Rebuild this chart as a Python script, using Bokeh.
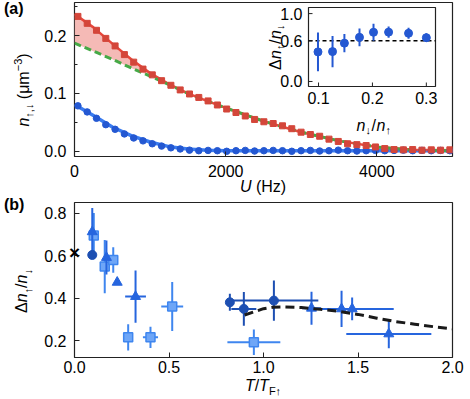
import math
from bokeh.plotting import figure
from bokeh.models import Range1d, FixedTicker, PrintfTickFormatter, Label, Div
from bokeh.layouts import column, row
from bokeh.embed import file_html
from bokeh.resources import INLINE
from bokeh.core.properties import value

FONT = "Liberation Sans"

# ---------------- data: panel (a) ----------------
U_hz = [45, 168, 291, 414, 537, 660, 783, 906, 1029, 1152, 1275, 1398, 1521, 1644, 1767,
        1890, 2013, 2136, 2259, 2382, 2505, 2628, 2751, 2874, 2997, 3120, 3243, 3366, 3489,
        3612, 3735, 3858, 3981, 4104, 4227, 4350, 4473, 4596, 4719, 4842, 4965]
n_up = [0.233, 0.221, 0.209, 0.195, 0.182, 0.167, 0.154, 0.142, 0.132, 0.122, 0.114, 0.106,
        0.099, 0.093, 0.087, 0.080, 0.073, 0.067, 0.061, 0.055, 0.051, 0.048, 0.044, 0.039,
        0.033, 0.029, 0.026, 0.021, 0.017, 0.013, 0.0115, 0.010, 0.0075, 0.0047, 0.003,
        0.0025, 0.003, 0.002, 0.0025, 0.002, 0.0025]
n_dn = [0.0785, 0.068, 0.057, 0.046, 0.038, 0.030, 0.023, 0.018, 0.013, 0.009, 0.006, 0.004,
        0.002, 0.001, 0.0015, 0.001, 0.0, 0.001, 0.0015, 0.0005, 0.001, 0.0015, 0.001, 0.0,
        0.001, 0.0015, 0.0005, 0.001, 0.002, 0.001, 0.0005, 0.001, 0.0015, 0.001, 0.0015,
        0.002, 0.001, 0.0015, 0.001, 0.0015, 0.001]
fit_U = [0, 250, 500, 750, 1000, 1250, 1500, 1750, 2000, 2500, 3000, 3500, 4000, 4500, 5000]
fit_up = [0.237, 0.214, 0.186, 0.159, 0.135, 0.116, 0.100, 0.087, 0.075, 0.052, 0.033, 0.018,
          0.0075, 0.0025, 0.002]
theory_up = [0.187, 0.173, 0.159, 0.144, 0.130, 0.115, 0.100, 0.087, 0.075, 0.052, 0.033,
             0.018, 0.0075, 0.0015, 0.001]
fit_dn = [0.081, 0.062, 0.042, 0.027, 0.016, 0.008, 0.004, 0.002, 0.001, 0.001, 0.001, 0.001,
          0.001, 0.001, 0.001]

# inset
inset_ratio = [0.099, 0.126, 0.148, 0.176, 0.202, 0.230, 0.267, 0.300]
inset_dn = [0.436, 0.440, 0.565, 0.650, 0.725, 0.727, 0.710, 0.645]
inset_err = [0.284, 0.230, 0.135, 0.130, 0.125, 0.083, 0.080, 0.065]
inset_ref = 0.6

# ---------------- data: panel (b) ----------------
circ_T = [0.094, 0.822, 0.896, 1.055]
circ_v = [0.603, 0.380, 0.349, 0.388]
circ_xe = [0.0, 0.02, 0.066, 0.235]
circ_ye = [0.0, 0.04, 0.08, 0.095]

tri_T = [0.094, 0.169, 0.226, 0.323, 1.254, 1.413, 1.469, 1.663]
tri_v = [0.712, 0.591, 0.474, 0.407, 0.352, 0.349, 0.349, 0.231]
tri_xe = [0.0, 0.0, 0.0, 0.055, 0.05, 0.0, 0.22, 0.225]
tri_ye = [0.112, 0.08, 0.0, 0.123, 0.078, 0.085, 0.053, 0.067]

sq_T = [0.102, 0.160, 0.205, 0.284, 0.402, 0.517, 0.949]
sq_v = [0.695, 0.548, 0.579, 0.215, 0.215, 0.360, 0.192]
sq_xe = [0.0, 0.0, 0.0, 0.0, 0.04, 0.058, 0.14]
sq_ye = [0.105, 0.125, 0.06, 0.062, 0.05, 0.115, 0.06]

cross_T = 0.0
cross_v = 0.615

theory_T = [0.9, 1.0, 1.05, 1.1, 1.2, 1.3, 1.4, 1.5, 1.6, 1.7, 1.8, 1.9, 2.0]
theory_v = [0.32, 0.35, 0.357, 0.358, 0.355, 0.347, 0.337, 0.323, 0.305, 0.289, 0.277, 0.265, 0.255]

# ---------------- styles / layout ----------------
RED_PT = "#d4463a"
RED_LINE = "#e8473b"
SHADE = "#f2a9a4"
GREEN = "#46a946"
BLUE_LINE = "#3a7cf0"
BLUE_PT = "#2458d2"
C_DARK = "#1d4fb2"
C_MID = "#2665de"
C_LIGHT = "#3f86ef"
C_LIGHT_FILL = "#6ea6f7"
FRAME = "#222222"

TOTAL_W = 466
SIDE_W = 30           # html column holding panel letter + y label
LEFT, RIGHT = 44, 14  # figure borders
FW = TOTAL_W - SIDE_W - LEFT - RIGHT   # 378
FH_A, FH_B = 154, 155
TOP_A, BOT_A = 2, 27
TOP_B, BOT_B = 6, 22
XLAB_A_H, XLAB_B_H = 13, 18
TICK_FS = "16px"
LAB_FS = "16px"
SUB_FS = "11px"


def style(p, xticks, yticks, xfmt, yfmt, xstand, yminor=None):
    p.outline_line_color = FRAME
    p.outline_line_width = 1.2
    p.xgrid.visible = False
    p.ygrid.visible = False
    for ax in (p.xaxis[0], p.yaxis[0]):
        ax.axis_line_color = None
        ax.major_tick_in = 5
        ax.major_tick_out = 0
        ax.minor_tick_in = 3
        ax.minor_tick_out = 0
        ax.major_tick_line_color = FRAME
        ax.minor_tick_line_color = FRAME
        ax.major_label_text_font = FONT
        ax.major_label_text_font_size = TICK_FS
        ax.major_label_text_color = "black"
    p.xaxis[0].major_label_standoff = xstand
    p.yaxis[0].major_label_standoff = 8
    p.xaxis[0].ticker = FixedTicker(ticks=xticks, minor_ticks=[])
    p.yaxis[0].ticker = FixedTicker(ticks=yticks, minor_ticks=yminor or [])
    p.xaxis[0].formatter = PrintfTickFormatter(format=xfmt)
    p.yaxis[0].formatter = PrintfTickFormatter(format=yfmt)


class Mapper:
    """pixel offsets (from frame left / frame top) -> data coordinates"""
    def __init__(self, x0, x1, y0, y1, fw, fh):
        self.x0, self.x1, self.y0, self.y1, self.fw, self.fh = x0, x1, y0, y1, fw, fh

    def x(self, px):
        return self.x0 + px / self.fw * (self.x1 - self.x0)

    def y(self, py):
        return self.y1 - py / self.fh * (self.y1 - self.y0)


def lab(p, m, px, py, text, size=LAB_FS, fstyle="normal", align="left",
        baseline="alphabetic", angle=0.0, **kw):
    p.add_layout(Label(x=m.x(px), y=m.y(py), text=text, text_font=FONT, text_font_size=size,
                       text_font_style=fstyle, text_align=align, text_baseline=baseline,
                       angle=angle, text_color="black", **kw))


def hlabel(p, m, cx, base, pieces, **kw):
    total = sum(pc[1] for pc in pieces)
    x = cx - total / 2
    for text, w, size, fst, shift in pieces:
        lab(p, m, x, base + shift, text, size=size, fstyle=fst, **kw)
        x += w


def vlabel(p, m, base, cy, pieces, **kw):
    total = sum(pc[1] for pc in pieces)
    y = cy + total / 2
    for text, w, size, fst, shift in pieces:
        lab(p, m, base + shift, y, text, size=size, fstyle=fst, angle=math.pi / 2, **kw)
        y -= w


def side_div(height, letter, letter_top, ylabel_html, cy):
    html = (
        f'<div style="position:relative;width:{SIDE_W}px;height:{height}px;margin:0;padding:0;'
        f'font-family:\'{FONT}\';color:black;">'
        f'<div style="position:absolute;left:4px;top:{letter_top}px;font-size:16px;'
        f'font-weight:bold;line-height:1;white-space:nowrap;">{letter}</div>'
        f'<div style="position:absolute;left:24px;top:{cy}px;font-size:{LAB_FS};line-height:1;'
        f'white-space:nowrap;transform:translate(-50%,-50%) rotate(-90deg);">{ylabel_html}</div>'
        f'</div>')
    return Div(text=html, width=SIDE_W, height=height, margin=0,
               styles={"overflow": "visible", "padding": "0", "margin": "0"})


def xlabel_div(label_html, height, top):
    cx = SIDE_W + LEFT + FW / 2
    html = (
        f'<div style="position:relative;width:{TOTAL_W}px;height:{height}px;margin:0;padding:0;'
        f'font-family:\'{FONT}\';color:black;">'
        f'<div style="position:absolute;left:{cx}px;top:{top}px;font-size:{LAB_FS};line-height:1;'
        f'white-space:nowrap;transform:translateX(-50%);">{label_html}</div></div>')
    return Div(text=html, width=TOTAL_W, height=height, margin=0,
               styles={"overflow": "visible", "padding": "0", "margin": "0"})


def make_fig(xr, yr, fh, top, bot):
    return figure(frame_width=FW, frame_height=fh, min_border_left=LEFT,
                  min_border_right=RIGHT, min_border_top=top, min_border_bottom=bot,
                  x_range=Range1d(*xr), y_range=Range1d(*yr), output_backend="svg",
                  toolbar_location=None, background_fill_color="white",
                  border_fill_color=None, margin=0)


# ---------------- panel (a) ----------------
xa0, xa1 = 0, 5000
ya0, ya1 = -0.009, 0.257
pa = make_fig((xa0, xa1), (ya0, ya1), FH_A, TOP_A, BOT_A)
style(pa, [0, 2000, 4000], [0.0, 0.1, 0.2], "%d", "%.1f", 8, yminor=[0.05, 0.15, 0.25])
ma = Mapper(xa0, xa1, ya0, ya1, FW, FH_A)

pa.varea(x=fit_U, y1=theory_up, y2=fit_up, fill_color=SHADE, fill_alpha=0.8)
pa.line(fit_U, fit_dn, line_color=BLUE_LINE, line_width=3.5)
pa.line(fit_U, fit_up, line_color=RED_LINE, line_width=2.5)
pa.line(fit_U, theory_up, line_color=GREEN, line_width=3, line_dash="7 4")
pa.scatter(U_hz, n_dn, marker="circle", size=6.5, fill_color=BLUE_PT, line_color=BLUE_PT)
pa.scatter(U_hz, n_up, marker="square", size=6, fill_color=RED_PT, line_color=RED_PT)

# inset drawn on extra ranges
IL, IR, IT, IB = 234, 361, 5, 84  # px inside frame
xi0, xi1 = 0.0814, 0.317
yi0, yi1 = -0.074, 1.09
sxi = (IR - IL) / (xi1 - xi0)
syi = (IB - IT) / (yi1 - yi0)
pa.extra_x_ranges = {"ix": Range1d(xi0 - IL / sxi, xi1 + (FW - IR) / sxi)}
pa.extra_y_ranges = {"iy": Range1d(yi0 - (FH_A - IB) / syi, yi1 + IT / syi)}
ik = dict(x_range_name="ix", y_range_name="iy")

pa.quad(left=[xi0], right=[xi1], bottom=[yi0], top=[yi1], fill_color="white",
        line_color=FRAME, line_width=1.2, **ik)
pa.line([xi0, xi1], [inset_ref, inset_ref], line_color="black", line_width=1.5,
        line_dash="4 3", **ik)
pa.segment(x0=inset_ratio, x1=inset_ratio,
           y0=[v - e for v, e in zip(inset_dn, inset_err)],
           y1=[v + e for v, e in zip(inset_dn, inset_err)],
           line_color=BLUE_PT, line_width=2, **ik)
pa.scatter(inset_ratio, inset_dn, marker="circle", size=8, fill_color=BLUE_PT,
           line_color=BLUE_PT, **ik)
ixt = [0.1, 0.2, 0.3]
iyt = [0.0, 0.6, 1.0]
pa.segment(x0=ixt, x1=ixt, y0=[yi0] * 3, y1=[yi0 + 4 / syi] * 3, line_color=FRAME, **ik)
pa.segment(x0=[xi0] * 3, x1=[xi0 + 4 / sxi] * 3, y0=iyt, y1=iyt, line_color=FRAME, **ik)
pa.text(x=ixt, y=[yi0] * 3, text=["%.1f" % t for t in ixt], y_offset=5,
        text_font=value(FONT), text_font_size=value(TICK_FS), text_align=value("center"),
        text_baseline=value("top"), text_color="black", **ik)
pa.text(x=[xi0] * 3, y=iyt, text=["%.1f" % t for t in iyt], x_offset=-6,
        text_font=value(FONT), text_font_size=value(TICK_FS), text_align=value("right"),
        text_baseline=value("middle"), text_color="black", **ik)
icx = (IL + IR) / 2 + 2
hlabel(pa, ma, icx, IB + 39,
       [("n", 9, LAB_FS, "italic", 0), ("↓", 6, SUB_FS, "normal", 4),
        ("/", 5, LAB_FS, "normal", 0), ("n", 9, LAB_FS, "italic", 0),
        ("↑", 6, SUB_FS, "normal", 4)])
vlabel(pa, ma, IL - 33, (IT + IB) / 2,
       [("Δ", 11, LAB_FS, "normal", 0), ("n", 9, LAB_FS, "italic", 0),
        ("↑", 6, SUB_FS, "normal", 4), ("/", 5, LAB_FS, "normal", 0),
        ("n", 9, LAB_FS, "italic", 0), ("↓", 6, SUB_FS, "normal", 4)])

H_A = TOP_A + FH_A + BOT_A
side_a = side_div(H_A, "(a)", 1,
                  '<i>n</i><sub style="font-size:11px;">↑,↓</sub> (μm'
                  '<sup style="font-size:11px;">−3</sup>)', 90)
xlab_a = xlabel_div('<i>U</i> (Hz)', XLAB_A_H, -4)

# ---------------- panel (b) ----------------
xb0, xb1 = 0.0, 2.0
yb0, yb1 = 0.12, 0.85
pb = make_fig((xb0, xb1), (yb0, yb1), FH_B, TOP_B, BOT_B)
style(pb, [0.0, 0.5, 1.0, 1.5, 2.0], [0.2, 0.4, 0.6, 0.8], "%.1f", "%.1f", 3)


def errbars(p, xs, ys, xe, ye, color):
    p.segment(x0=xs, x1=xs, y0=[y - e for y, e in zip(ys, ye)],
              y1=[y + e for y, e in zip(ys, ye)], line_color=color, line_width=2)
    p.segment(x0=[x - e for x, e in zip(xs, xe)], x1=[x + e for x, e in zip(xs, xe)],
              y0=ys, y1=ys, line_color=color, line_width=2)


errbars(pb, sq_T, sq_v, sq_xe, sq_ye, C_LIGHT)
pb.scatter(sq_T, sq_v, marker="square", size=9, fill_color=C_LIGHT_FILL, line_color=C_LIGHT,
           line_width=1.5)
errbars(pb, tri_T, tri_v, tri_xe, tri_ye, C_MID)
pb.scatter(tri_T, tri_v, marker="triangle", size=10, fill_color=C_MID, line_color=C_MID)
errbars(pb, circ_T, circ_v, circ_xe, circ_ye, C_DARK)
pb.scatter(circ_T, circ_v, marker="circle", size=9, fill_color=C_DARK, line_color=C_DARK)
pb.line(theory_T, theory_v, line_color="#1a1a1a", line_width=3, line_dash="9 5")

# cross marker sits on the frame edge: put it in the left side panel so it is not clipped
pb.add_layout(Label(x=cross_T, y=cross_v, text="×", text_font=FONT, text_font_size="19px",
                    text_font_style="bold", text_align="center", text_baseline="middle",
                    text_color="black"), "left")

H_B = TOP_B + FH_B + BOT_B
side_b = side_div(H_B, "(b)", 1,
                  'Δ<i>n</i><sub style="font-size:11px;">↑</sub>/<i>n</i>'
                  '<sub style="font-size:11px;">↓</sub>', 95)
xlab_b = xlabel_div('<i>T</i>/<i>T</i><sub style="font-size:11px;">F↑</sub>', XLAB_B_H, -1)

layout = column(row(side_a, pa, spacing=0, margin=0), xlab_a,
                row(side_b, pb, spacing=0, margin=0), xlab_b, spacing=0, margin=0)
open("out.html", "w").write(file_html(layout, INLINE))
